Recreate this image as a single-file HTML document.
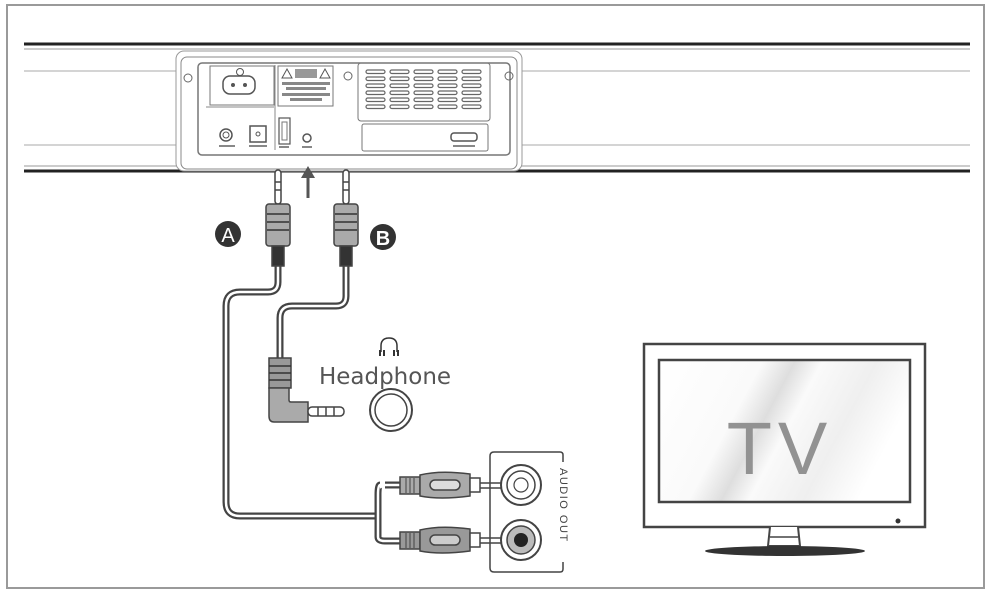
<!DOCTYPE html>
<html><head><meta charset="utf-8"><style>
html,body{margin:0;padding:0;background:#fff;width:991px;height:595px;overflow:hidden}
svg{display:block}
text{font-family:"Liberation Sans",sans-serif}
</style></head><body>
<svg width="991" height="595" viewBox="0 0 991 595" xmlns="http://www.w3.org/2000/svg">
<defs>
<linearGradient id="scr" x1="0" y1="0" x2="1" y2="0.3">
<stop offset="0" stop-color="#fff"/><stop offset="0.38" stop-color="#fafafa"/>
<stop offset="0.5" stop-color="#dedede"/><stop offset="0.6" stop-color="#fafafa"/>
<stop offset="0.8" stop-color="#efefef"/><stop offset="1" stop-color="#fff"/>
</linearGradient>
</defs>
<rect x="7" y="5" width="977" height="583" fill="none" stroke="#9a9a9a" stroke-width="2"/>
<!-- soundbar -->
<line x1="24" y1="44" x2="970" y2="44" stroke="#222" stroke-width="3"/>
<line x1="24" y1="49" x2="970" y2="49" stroke="#999" stroke-width="1"/>
<line x1="24" y1="71" x2="970" y2="71" stroke="#aaa" stroke-width="1"/>
<line x1="24" y1="145" x2="970" y2="145" stroke="#aaa" stroke-width="1"/>
<line x1="24" y1="166" x2="970" y2="166" stroke="#999" stroke-width="1"/>
<line x1="24" y1="171" x2="970" y2="171" stroke="#222" stroke-width="3"/>
<!-- panel -->
<rect x="176" y="51" width="346" height="120" rx="8" fill="#fff" stroke="#999" stroke-width="1"/>
<rect x="181" y="57" width="336" height="112" rx="6" fill="#fff" stroke="#888" stroke-width="1"/>
<rect x="198" y="63" width="312" height="92" rx="4" fill="#fff" stroke="#777" stroke-width="1.5"/>
<circle cx="188" cy="78" r="4" fill="none" stroke="#666"/><circle cx="509" cy="76" r="4" fill="none" stroke="#666"/>
<circle cx="348" cy="76" r="4" fill="none" stroke="#666"/>
<rect x="210" y="66" width="64" height="39" fill="none" stroke="#777"/>
<rect x="223" y="76" width="32" height="18" rx="7" fill="none" stroke="#555" stroke-width="1.5"/>
<circle cx="233" cy="85" r="2" fill="#555"/><circle cx="245" cy="85" r="2" fill="#555"/>
<circle cx="240" cy="72" r="3.5" fill="none" stroke="#555"/>
<line x1="206" y1="107" x2="274" y2="107" stroke="#888"/><line x1="275" y1="65" x2="275" y2="150" stroke="#888"/>
<rect x="278" y="66" width="55" height="40" fill="none" stroke="#777"/>
<rect x="295" y="69" width="22" height="9" fill="#999"/>
<path d="M282 78 L287 69 L292 78Z M320 78 L325 69 L330 78Z" fill="none" stroke="#555"/>
<rect x="282" y="82" width="48" height="3" fill="#888"/><rect x="286" y="87" width="40" height="3" fill="#888"/>
<rect x="282" y="93" width="48" height="3" fill="#888"/><rect x="290" y="98" width="32" height="3" fill="#888"/>
<rect x="358" y="63" width="132" height="58" rx="3" fill="none" stroke="#777"/>
<g fill="none" stroke="#666" stroke-width="1.2">
<rect x="366" y="70" width="19" height="3.5" rx="1.7"/><rect x="390" y="70" width="19" height="3.5" rx="1.7"/><rect x="414" y="70" width="19" height="3.5" rx="1.7"/><rect x="438" y="70" width="19" height="3.5" rx="1.7"/><rect x="462" y="70" width="19" height="3.5" rx="1.7"/>
<rect x="366" y="77" width="19" height="3.5" rx="1.7"/><rect x="390" y="77" width="19" height="3.5" rx="1.7"/><rect x="414" y="77" width="19" height="3.5" rx="1.7"/><rect x="438" y="77" width="19" height="3.5" rx="1.7"/><rect x="462" y="77" width="19" height="3.5" rx="1.7"/>
<rect x="366" y="84" width="19" height="3.5" rx="1.7"/><rect x="390" y="84" width="19" height="3.5" rx="1.7"/><rect x="414" y="84" width="19" height="3.5" rx="1.7"/><rect x="438" y="84" width="19" height="3.5" rx="1.7"/><rect x="462" y="84" width="19" height="3.5" rx="1.7"/>
<rect x="366" y="91" width="19" height="3.5" rx="1.7"/><rect x="390" y="91" width="19" height="3.5" rx="1.7"/><rect x="414" y="91" width="19" height="3.5" rx="1.7"/><rect x="438" y="91" width="19" height="3.5" rx="1.7"/><rect x="462" y="91" width="19" height="3.5" rx="1.7"/>
<rect x="366" y="98" width="19" height="3.5" rx="1.7"/><rect x="390" y="98" width="19" height="3.5" rx="1.7"/><rect x="414" y="98" width="19" height="3.5" rx="1.7"/><rect x="438" y="98" width="19" height="3.5" rx="1.7"/><rect x="462" y="98" width="19" height="3.5" rx="1.7"/>
<rect x="366" y="105" width="19" height="3.5" rx="1.7"/><rect x="390" y="105" width="19" height="3.5" rx="1.7"/><rect x="414" y="105" width="19" height="3.5" rx="1.7"/><rect x="438" y="105" width="19" height="3.5" rx="1.7"/><rect x="462" y="105" width="19" height="3.5" rx="1.7"/>
</g>
<rect x="362" y="124" width="126" height="27" rx="2" fill="none" stroke="#777"/>
<rect x="451" y="133" width="26" height="8" rx="3" fill="none" stroke="#555" stroke-width="1.5"/>
<rect x="453" y="145" width="22" height="2" fill="#888"/>
<circle cx="226" cy="135" r="6" fill="none" stroke="#555" stroke-width="1.5"/><circle cx="226" cy="135" r="3" fill="none" stroke="#555"/>
<rect x="219" y="145" width="16" height="2" fill="#888"/>
<rect x="250" y="126" width="16" height="16" fill="none" stroke="#555" stroke-width="1.5"/><circle cx="258" cy="134" r="2" fill="none" stroke="#555"/>
<rect x="249" y="145" width="18" height="2" fill="#888"/>
<rect x="279" y="118" width="11" height="26" fill="none" stroke="#555" stroke-width="1.2"/><rect x="282" y="122" width="5" height="18" fill="none" stroke="#777"/>
<rect x="279" y="146" width="10" height="2" fill="#888"/>
<circle cx="307" cy="138" r="4" fill="none" stroke="#555" stroke-width="1.5"/><rect x="302" y="146" width="10" height="2" fill="#888"/>
<!-- arrow -->
<line x1="308" y1="198" x2="308" y2="176" stroke="#555" stroke-width="3"/>
<path d="M301 178 L308 166 L315 178Z" fill="#555"/>
<!-- cables -->
<g fill="none" stroke-linejoin="round">
<path d="M278 265 V282 Q278 292 268 292 H240 Q226 292 226 306 V502 Q226 516 240 516 H380" stroke="#444" stroke-width="7"/>
<path d="M278 265 V282 Q278 292 268 292 H240 Q226 292 226 306 V502 Q226 516 240 516 H380" stroke="#fff" stroke-width="2.5"/>
<path d="M380 485 Q378 485 378 495 V537 Q378 541 385 541 H400 M385 485 H400" stroke="#444" stroke-width="7"/>
<path d="M380 485 Q378 485 378 495 V537 Q378 541 385 541 H400 M385 485 H400" stroke="#fff" stroke-width="2.5"/>
<path d="M346 265 V296 Q346 306 336 306 H292 Q280 306 280 318 V360" stroke="#444" stroke-width="7"/>
<path d="M346 265 V296 Q346 306 336 306 H292 Q280 306 280 318 V360" stroke="#fff" stroke-width="2.5"/>
</g>
<g stroke="#444" stroke-width="1.5">
<rect x="275" y="170" width="6" height="34" rx="3" fill="#fff"/>
<line x1="275" y1="182" x2="281" y2="182"/><line x1="275" y1="190" x2="281" y2="190"/>
<rect x="266" y="204" width="24" height="42" rx="3" fill="#aaa"/>
<line x1="267" y1="214" x2="289" y2="214" stroke="#333"/><line x1="267" y1="222" x2="289" y2="222" stroke="#333"/><line x1="267" y1="230" x2="289" y2="230" stroke="#333"/>
<rect x="272" y="246" width="12" height="20" fill="#333"/>
<rect x="343" y="170" width="6" height="34" rx="3" fill="#fff"/>
<line x1="343" y1="182" x2="349" y2="182"/><line x1="343" y1="190" x2="349" y2="190"/>
<rect x="334" y="204" width="24" height="42" rx="3" fill="#aaa"/>
<line x1="335" y1="214" x2="357" y2="214" stroke="#333"/><line x1="335" y1="222" x2="357" y2="222" stroke="#333"/><line x1="335" y1="230" x2="357" y2="230" stroke="#333"/>
<rect x="340" y="246" width="12" height="20" fill="#333"/>
<rect x="269" y="358" width="22" height="30" fill="#999"/>
<line x1="269" y1="366" x2="291" y2="366" stroke="#333"/><line x1="269" y1="373" x2="291" y2="373" stroke="#333"/><line x1="269" y1="380" x2="291" y2="380" stroke="#333"/>
<path d="M269 388 H289 V400 Q289 402 291 402 H308 V422 H274 Q269 422 269 416Z" fill="#aaa"/>
<rect x="308" y="407" width="36" height="9" rx="4" fill="#fff"/>
<line x1="318" y1="407" x2="318" y2="416"/><line x1="326" y1="407" x2="326" y2="416"/><line x1="334" y1="407" x2="334" y2="416"/>
</g>
<circle cx="391" cy="410" r="21" fill="none" stroke="#444" stroke-width="2"/>
<circle cx="391" cy="410" r="16" fill="none" stroke="#444" stroke-width="1.5"/>
<path d="M381 352 V346 Q381 338 389 338 Q397 338 397 346 V352" fill="none" stroke="#333" stroke-width="1.5"/>
<rect x="379" y="350" width="2" height="6" fill="#333"/><rect x="383" y="350" width="2" height="6" fill="#333"/><rect x="393" y="350" width="2" height="6" fill="#333"/><rect x="397" y="350" width="2" height="6" fill="#333"/>
<text x="385" y="384" text-anchor="middle" font-size="23" fill="#555" style="font-family:'DejaVu Sans','Liberation Sans',sans-serif">Headphone</text>
<circle cx="228" cy="234" r="13" fill="#333"/><text x="228" y="242" text-anchor="middle" font-size="20" fill="#fff">A</text>
<circle cx="383" cy="237" r="13" fill="#333"/><text x="383" y="245" text-anchor="middle" font-size="20" fill="#fff" font-weight="bold">B</text>
<g stroke="#444" stroke-width="1.5">
<rect x="400" y="477" width="20" height="17" fill="#aaa"/>
<path d="M420 475 Q440 470 470 474 V496 Q440 500 420 496Z" fill="#aaa"/>
<rect x="430" y="480" width="30" height="10" rx="5" fill="#ddd"/>
<rect x="470" y="478" width="10" height="14" fill="#fff"/>
<line x1="480" y1="483" x2="505" y2="483"/><line x1="480" y1="488" x2="505" y2="488"/>
<rect x="400" y="532" width="20" height="17" fill="#999"/>
<path d="M420 530 Q440 525 470 529 V551 Q440 555 420 551Z" fill="#999"/>
<rect x="430" y="535" width="30" height="10" rx="5" fill="#ccc"/>
<rect x="470" y="533" width="10" height="14" fill="#fff"/>
<line x1="480" y1="538" x2="505" y2="538"/><line x1="480" y1="543" x2="505" y2="543"/>
</g>
<g stroke="#444" stroke-width="1" fill="none">
<line x1="406" y1="478" x2="406" y2="493"/><line x1="410" y1="478" x2="410" y2="493"/><line x1="414" y1="478" x2="414" y2="493"/>
<line x1="406" y1="533" x2="406" y2="548"/><line x1="410" y1="533" x2="410" y2="548"/><line x1="414" y1="533" x2="414" y2="548"/>
</g>
<path d="M563 462 V455 Q563 452 560 452 H494 Q490 452 490 456 V568 Q490 572 494 572 H560 Q563 572 563 569 V562" fill="none" stroke="#444" stroke-width="1.5"/>
<circle cx="521" cy="485" r="20" fill="#fff" stroke="#444" stroke-width="2"/><circle cx="521" cy="485" r="14" fill="none" stroke="#444" stroke-width="1.5"/><circle cx="521" cy="485" r="7" fill="none" stroke="#444" stroke-width="1.2"/>
<circle cx="521" cy="540" r="20" fill="#fff" stroke="#444" stroke-width="2"/><circle cx="521" cy="540" r="14" fill="#bbb" stroke="#444" stroke-width="1.5"/><circle cx="521" cy="540" r="7" fill="#222"/>
<text transform="translate(560,468) rotate(90)" font-size="11" fill="#444" letter-spacing="1.5">AUDIO  OUT</text>
<rect x="644" y="344" width="281" height="183" fill="#fff" stroke="#444" stroke-width="2.5"/>
<rect x="659" y="360" width="251" height="142" fill="url(#scr)" stroke="#444" stroke-width="2.5"/>
<circle cx="898" cy="521" r="2.5" fill="#333"/>
<path d="M770 527 L768 546 H800 L798 527" fill="#fff" stroke="#444" stroke-width="2"/>
<line x1="770" y1="537" x2="798" y2="537" stroke="#444" stroke-width="1.5"/>
<ellipse cx="785" cy="551" rx="80" ry="5" fill="#333"/>
<text x="780" y="474" text-anchor="middle" font-size="74" fill="#929292" letter-spacing="6">TV</text>
</svg>
</body></html>
